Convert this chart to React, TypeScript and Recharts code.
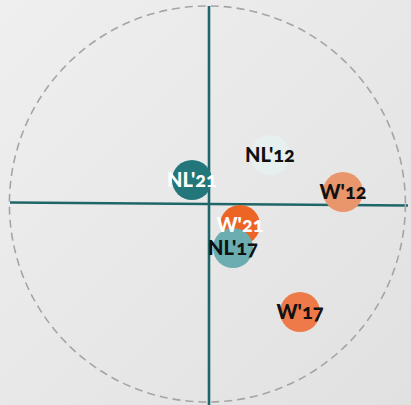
import React from 'react';
import { ScatterChart, Scatter, XAxis, YAxis, ReferenceLine, ReferenceDot, Cell } from 'recharts';

const labels = ["NL'12", "NL'21", "W'12", "W'21", "NL'17", "W'17"];
const xValues = [0.305, -0.085, 0.67, 0.155, 0.12, 0.455];
const yValues = [0.25, 0.125, 0.065, -0.1, -0.215, -0.535];
const fills = ['#e5f0ef', '#23777a', '#e9966d', '#ec6524', '#6badb1', '#ee7a49'];
const textColors = ['#111111', '#ffffff', '#111111', '#ffffff', '#111111', '#111111'];

const hAxisX = [-0.995, 0.995];
const hAxisY = [0.0125, -0.0025];
const vAxisY = [0.995, -1];
const ringCenter = { x: -0.008, y: 0.005 };

const data = labels.map((label, i) => ({ label, x: xValues[i], y: yValues[i], fill: fills[i], color: textColors[i] }));

const LINE = '#1f6669';

const LabelShape = (props: any) => {
  const { cx, cy, payload } = props;
  return (
    <text x={cx} y={cy} dy={6.5} textAnchor="middle" fill={payload.color}
      style={{ fontFamily: 'Lato, "Open Sans", sans-serif', fontWeight: 900, fontSize: 20, fontVariantNumeric: 'oldstyle-nums' }}>
      {payload.label}
    </text>
  );
};

const DotShape = (props: any) => {
  const { cx, cy, payload } = props;
  return <circle cx={cx} cy={cy} r={20} fill={payload.fill} />;
};

export default function App() {
  return (
    <div style={{ position: 'absolute', left: 0, top: 0, width: 411, height: 405, background: 'linear-gradient(135deg, #efefef 0%, #e8e8e8 50%, #e1e1e1 100%)', overflow: 'hidden' }}>
      <ScatterChart width={411} height={410} margin={{ top: 5, right: 2, bottom: 5, left: 9 }}>
        <XAxis type="number" dataKey="x" domain={[-1, 1]} hide />
        <YAxis type="number" dataKey="y" domain={[-1, 1]} hide />
        <ReferenceDot x={ringCenter.x} y={ringCenter.y} r={198} fill="none" stroke="#a5a5a5" strokeWidth={1.6} strokeDasharray="8 5" ifOverflow="visible" />
        <ReferenceLine segment={[{ x: 0, y: vAxisY[0] }, { x: 0, y: vAxisY[1] }]} stroke={LINE} strokeWidth={2.6} ifOverflow="visible" />
        <ReferenceLine segment={[{ x: hAxisX[0], y: hAxisY[0] }, { x: hAxisX[1], y: hAxisY[1] }]} stroke={LINE} strokeWidth={2.6} ifOverflow="visible" />
        <Scatter data={data} shape={DotShape} isAnimationActive={false}>
          {data.map((d, i) => <Cell key={i} fill={d.fill} />)}
        </Scatter>
        <Scatter data={data} shape={LabelShape} isAnimationActive={false} />
      </ScatterChart>
    </div>
  );
}
